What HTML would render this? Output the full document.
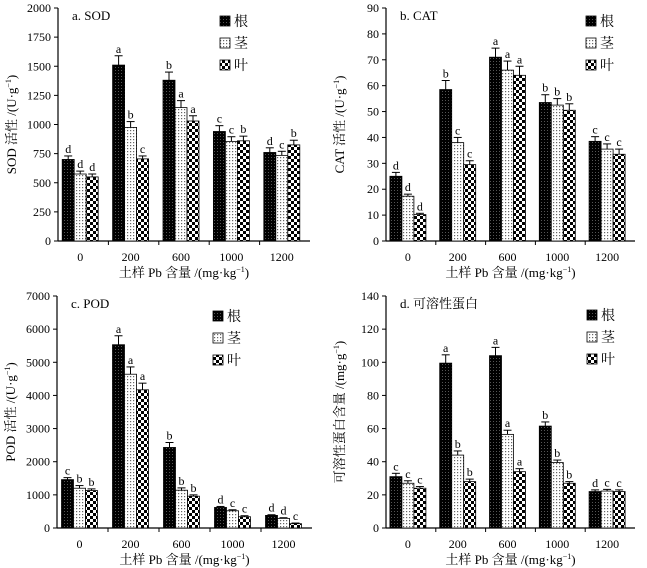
<!DOCTYPE html>
<html><head><meta charset="utf-8"><style>
body{margin:0;background:#fff;width:647px;height:568px;overflow:hidden}
svg{display:block}
svg text{font-family:"Liberation Serif","Noto Serif CJK SC",serif}
</style></head><body>
<svg id="chart" width="647" height="568" viewBox="0 0 647 568" xmlns="http://www.w3.org/2000/svg">
<defs>
<pattern id="pRoot" width="3" height="3" patternUnits="userSpaceOnUse"><rect width="3" height="3" fill="#000"/><rect x="1" y="1" width="1" height="1" fill="#555"/></pattern>
<pattern id="pStem" width="3" height="3" patternUnits="userSpaceOnUse"><rect width="3" height="3" fill="#fff"/><rect x="1" y="1" width="1.2" height="1.2" fill="#666"/></pattern>
<pattern id="pLeaf" width="6" height="6" patternUnits="userSpaceOnUse"><rect width="6" height="6" fill="#fff"/><rect width="3" height="3" fill="#000"/><rect x="3" y="3" width="3" height="3" fill="#000"/></pattern>
</defs>
</svg>
<script>
const categories=["0","200","600","1000","1200"];
const seriesNames=["根","茎","叶"];
const sodRoot=[700,1510,1380,940,760], sodStem=[575,975,1145,855,735], sodLeaf=[550,705,1030,860,825];
const sodErr=[[30,80,70,50,40],[25,50,60,40,35],[25,25,45,40,40]];
const sodLet=[["d","a","b","c","d"],["d","b","a","c","c"],["d","c","a","b","b"]];
const sodTicks=[0,250,500,750,1000,1250,1500,1750,2000];
const catRoot=[25,58.5,71,53.5,38.5], catStem=[17.3,38,66,52.5,35.5], catLeaf=[10.2,29.5,64,50.5,33.5];
const catErr=[[1.5,3.5,3.5,3,1.8],[0.8,2,3.5,2.5,2],[0.5,1.5,3.5,2.5,2]];
const catLet=[["d","b","a","b","c"],["d","c","a","b","c"],["d","c","a","b","c"]];
const catTicks=[0,10,20,30,40,50,60,70,80,90];
const podRoot=[1460,5530,2430,620,380], podStem=[1200,4640,1140,520,290], podLeaf=[1130,4170,960,340,130];
const podErr=[[60,270,150,30,20],[80,220,70,30,20],[50,200,40,30,20]];
const podLet=[["c","a","b","d","d"],["b","a","b","c","d"],["b","a","b","c","c"]];
const podTicks=[0,1000,2000,3000,4000,5000,6000,7000];
const proRoot=[31,99.5,104,61.5,22], proStem=[27,44,56.5,39.5,22.3], proLeaf=[24,28,34,27,22];
const proErr=[[2,5,5,2.5,1],[1.5,2.5,2.5,1.5,1],[1,1.5,1.8,1,1]];
const proLet=[["c","a","a","b","d"],["c","b","a","b","c"],["c","b","a","b","c"]];
const proTicks=[0,20,40,60,80,100,120,140];

const NS="http://www.w3.org/2000/svg";
const svg=document.getElementById('chart');
function mk(tag,attrs,parent,txt){const e=document.createElementNS(NS,tag);for(const k in attrs)e.setAttribute(k,attrs[k]);if(txt!==undefined)e.textContent=txt;(parent||svg).appendChild(e);return e;}
const fills=["url(#pRoot)","url(#pStem)","url(#pLeaf)"];
const snames=["root","stem","leaf"];

function panel(cfg){
  const g=mk('g',{});
  
  
  const {x0,x1,y0,y1,max}=cfg;
  const ys=v=>y0-(v/max)*(y0-y1);
  const bw=(x1-x0)/categories.length;
  const xs=i=>x0+bw*(i+0.5)-3;
  const ya=mk('line',{x1:x0,y1:y0,x2:x0,y2:y1,stroke:'#000','stroke-width':1.2},g);
  
  const xa=mk('line',{x1:x0,y1:y0,x2:x1,y2:y0,stroke:'#000','stroke-width':1.2},g);
  
  cfg.ticks.forEach(t=>{
    mk('line',{x1:x0-4,y1:ys(t),x2:x0,y2:ys(t),stroke:'#000'},g);
    const tl=mk('text',{x:x0-7,y:ys(t)+4,'font-size':12,'text-anchor':'end'},g,String(t));
    
  });
  for(let i=1;i<categories.length;i++){mk('line',{x1:x0+bw*i,y1:y0,x2:x0+bw*i,y2:y0+4,stroke:'#000'},g);}
  categories.forEach((c,i)=>{
    const tl=mk('text',{x:xs(i),y:y0+20,'font-size':12,'text-anchor':'middle'},g,c);
    
  });
  const bwid=12;
  cfg.series.forEach((arr,s)=>{
    arr.forEach((v,i)=>{
      const cx=xs(i)+(s-1)*bwid;
      const r=mk('rect',{x:cx-bwid/2,y:ys(v),width:bwid,height:y0-ys(v),fill:fills[s],stroke:'#000','stroke-width':0.8},g);
      
      
      const e=cfg.err[s][i], top=ys(v+e);
      mk('line',{x1:cx,y1:ys(v),x2:cx,y2:top,stroke:'#000','stroke-width':1},g);
      mk('line',{x1:cx-4,y1:top,x2:cx+4,y2:top,stroke:'#000','stroke-width':1},g);
      const lt=mk('text',{x:cx,y:top-3,'font-size':12,'text-anchor':'middle'},g,cfg.letters[s][i]);
      
    });
  });
  const ti=mk('text',{x:x0+14,y:y1+12,'font-size':13},g,cfg.title);
  
  const xt=mk('text',{x:(x0+x1)/2,y:y0+36,'font-size':13,'text-anchor':'middle'},g);
  
  xt.innerHTML='土样 Pb 含量 /(mg·kg<tspan font-size="8" dy="-5">−1</tspan><tspan dy="5">)</tspan>';
  const cy=(y0+y1)/2, cxT=x0-42;
  const yt=mk('text',{x:cxT,y:cy,'font-size':13,'text-anchor':'middle',transform:`rotate(-90 ${cxT} ${cy})`},g);
  
  yt.innerHTML=cfg.ytitle+' /('+cfg.yunit+'·g<tspan font-size="8" dy="-5">−1</tspan><tspan dy="5">)</tspan>';
  seriesNames.forEach((n,s)=>{
    const ly=cfg.ly+s*22;
    const le=mk('g',{},g);
    
    
    mk('rect',{x:cfg.lx,y:ly-9,width:10,height:10,fill:fills[s],stroke:'#000','stroke-width':0.8},le);
    mk('text',{x:cfg.lx+14,y:ly+1,'font-size':14},le,n);
  });
}
panel({name:'sod',x0:58,x1:310,y0:241,y1:8,max:2000,ticks:sodTicks,series:[sodRoot,sodStem,sodLeaf],err:sodErr,letters:sodLet,title:'a. SOD',ytitle:'SOD 活性',yunit:'U',lx:220,ly:25});
panel({name:'cat',x0:386,x1:635,y0:241,y1:8,max:90,ticks:catTicks,series:[catRoot,catStem,catLeaf],err:catErr,letters:catLet,title:'b. CAT',ytitle:'CAT 活性',yunit:'U',lx:586,ly:25});
panel({name:'pod',x0:57,x1:312,y0:528,y1:296,max:7000,ticks:podTicks,series:[podRoot,podStem,podLeaf],err:podErr,letters:podLet,title:'c. POD',ytitle:'POD 活性',yunit:'U',lx:213,ly:320});
panel({name:'protein',x0:386,x1:635,y0:528,y1:296,max:140,ticks:proTicks,series:[proRoot,proStem,proLeaf],err:proErr,letters:proLet,title:'d. 可溶性蛋白',ytitle:'可溶性蛋白含量',yunit:'mg',lx:587,ly:319});
</script>
</body></html>
